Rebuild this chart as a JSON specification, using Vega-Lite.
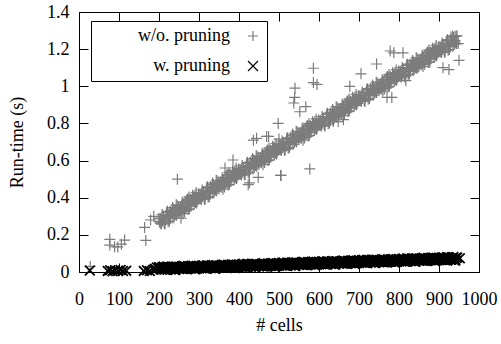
{
  "$schema": "https://vega.github.io/schema/vega-lite/v6.json",
  "width": 400,
  "height": 260,
  "autosize": {"type": "none"},
  "padding": {"left": 79, "top": 12, "right": 22, "bottom": 72},
  "background": "white",
  "config": {
    "view": {"stroke": "black", "strokeWidth": 1},
    "font": "Liberation Serif",
    "text": {"font": "Liberation Serif"},
    "axis": {
      "labelFont": "Liberation Serif", "labelFontSize": 18, "labelColor": "black",
      "titleFont": "Liberation Serif", "titleFontSize": 18, "titleFontWeight": "normal", "titleColor": "black",
      "grid": false, "domainColor": "black", "tickColor": "black", "tickSize": -9, "tickWidth": 1
    },
    "legend": {
      "orient": "none", "legendX": 12, "legendY": 9,
      "strokeColor": "black", "strokeWidth": 1, "fillColor": "white", "padding": 6, "cornerRadius": 0,
      "labelFont": "Liberation Serif", "labelFontSize": 18, "labelColor": "black",
      "labelAlign": "right", "symbolOffset": 147, "labelOffset": -32, "labelLimit": 200,
      "rowPadding": 12, "symbolSize": 100, "symbolStrokeWidth": 1.2
    }
  },
  "datasets": {
    "g": [
      {"c":28,"t":0.03},{"c":77,"t":0.176},{"c":77,"t":0.145},{"c":89,"t":0.136},{"c":97,"t":0.135},{"c":106,"t":0.15},{"c":114,"t":0.172},
      {"c":164,"t":0.24},{"c":167,"t":0.17},{"c":179,"t":0.28},{"c":187,"t":0.3},{"c":235,"t":0.33},{"c":246,"t":0.5},{"c":255,"t":0.29},
      {"c":385,"t":0.603},{"c":365,"t":0.56},{"c":423,"t":0.47},{"c":426,"t":0.48},{"c":448,"t":0.51},{"c":436,"t":0.71},{"c":444,"t":0.72},{"c":469,"t":0.73},{"c":474,"t":0.73},
      {"c":498,"t":0.8},{"c":500,"t":0.716},{"c":504,"t":0.52},{"c":505,"t":0.52},{"c":537,"t":0.91},{"c":539,"t":0.94},{"c":540,"t":0.99},{"c":552,"t":0.863},{"c":560,"t":0.775},{"c":567,"t":0.89},
      {"c":577,"t":0.555},{"c":586,"t":1.097},{"c":586,"t":1.02},{"c":595,"t":1.01},{"c":636,"t":0.81},{"c":648,"t":0.81},{"c":661,"t":0.82},{"c":677,"t":1.0},{"c":705,"t":1.067},
      {"c":744,"t":1.12},{"c":770,"t":0.94},{"c":782,"t":0.94},{"c":778,"t":1.19},{"c":787,"t":1.18},{"c":810,"t":1.18},{"c":817,"t":1.03},{"c":847,"t":1.1},{"c":877,"t":1.13},
      {"c":910,"t":1.1},{"c":925,"t":1.09},{"c":950,"t":1.14},{"c":948,"t":1.23},{"c":940,"t":1.27},{"c":930,"t":1.265},
      {"c":200,"t":0.29},{"c":205,"t":0.262},{"c":210,"t":0.288},{"c":215,"t":0.26},{"c":220,"t":0.321},{"c":225,"t":0.298},{"c":230,"t":0.325},{"c":235,"t":0.291},{"c":240,"t":0.323},{"c":245,"t":0.359},
      {"c":250,"t":0.316},{"c":255,"t":0.353},{"c":260,"t":0.314},{"c":265,"t":0.376},{"c":270,"t":0.352},{"c":275,"t":0.404},{"c":280,"t":0.356},{"c":285,"t":0.387},{"c":290,"t":0.414},{"c":295,"t":0.38},
      {"c":300,"t":0.422},{"c":305,"t":0.394},{"c":310,"t":0.42},{"c":315,"t":0.392},{"c":320,"t":0.453},{"c":325,"t":0.43},{"c":330,"t":0.457},{"c":335,"t":0.423},{"c":340,"t":0.455},{"c":345,"t":0.491},
      {"c":350,"t":0.448},{"c":355,"t":0.485},{"c":360,"t":0.446},{"c":365,"t":0.508},{"c":370,"t":0.484},{"c":375,"t":0.536},{"c":380,"t":0.488},{"c":385,"t":0.519},{"c":390,"t":0.546},{"c":395,"t":0.512},
      {"c":400,"t":0.554},{"c":405,"t":0.526},{"c":410,"t":0.552},{"c":415,"t":0.524},{"c":420,"t":0.585},{"c":425,"t":0.562},{"c":430,"t":0.589},{"c":435,"t":0.555},{"c":440,"t":0.587},{"c":445,"t":0.623},
      {"c":450,"t":0.58},{"c":455,"t":0.617},{"c":460,"t":0.578},{"c":465,"t":0.64},{"c":470,"t":0.616},{"c":475,"t":0.668},{"c":480,"t":0.62},{"c":485,"t":0.651},{"c":490,"t":0.678},{"c":495,"t":0.644},
      {"c":500,"t":0.686},{"c":505,"t":0.658},{"c":510,"t":0.684},{"c":515,"t":0.656},{"c":520,"t":0.717},{"c":525,"t":0.694},{"c":530,"t":0.721},{"c":535,"t":0.687},{"c":540,"t":0.719},{"c":545,"t":0.755},
      {"c":550,"t":0.712},{"c":555,"t":0.749},{"c":560,"t":0.71},{"c":565,"t":0.772},{"c":570,"t":0.748},{"c":575,"t":0.8},{"c":580,"t":0.752},{"c":585,"t":0.783},{"c":590,"t":0.81},{"c":595,"t":0.776},
      {"c":600,"t":0.818},{"c":605,"t":0.79},{"c":610,"t":0.816},{"c":615,"t":0.788},{"c":620,"t":0.849},{"c":625,"t":0.826},{"c":630,"t":0.853},{"c":635,"t":0.819},{"c":640,"t":0.851},{"c":645,"t":0.887},
      {"c":650,"t":0.844},{"c":655,"t":0.881},{"c":660,"t":0.842},{"c":665,"t":0.904},{"c":670,"t":0.88},{"c":675,"t":0.932},{"c":680,"t":0.884},{"c":685,"t":0.915},{"c":690,"t":0.942},{"c":695,"t":0.908},
      {"c":700,"t":0.95},{"c":705,"t":0.922},{"c":710,"t":0.948},{"c":715,"t":0.92},{"c":720,"t":0.981},{"c":725,"t":0.958},{"c":730,"t":0.985},{"c":735,"t":0.951},{"c":740,"t":0.983},{"c":745,"t":1.019},
      {"c":750,"t":0.976},{"c":755,"t":1.013},{"c":760,"t":0.974},{"c":765,"t":1.036},{"c":770,"t":1.012},{"c":775,"t":1.064},{"c":780,"t":1.016},{"c":785,"t":1.047},{"c":790,"t":1.074},{"c":795,"t":1.04},
      {"c":800,"t":1.082},{"c":805,"t":1.054},{"c":810,"t":1.08},{"c":815,"t":1.052},{"c":820,"t":1.113},{"c":825,"t":1.09},{"c":830,"t":1.117},{"c":835,"t":1.083},{"c":840,"t":1.115},{"c":845,"t":1.151},
      {"c":850,"t":1.108},{"c":855,"t":1.145},{"c":860,"t":1.106},{"c":865,"t":1.168},{"c":870,"t":1.144},{"c":875,"t":1.196},{"c":880,"t":1.148},{"c":885,"t":1.179},{"c":890,"t":1.206},{"c":895,"t":1.172},
      {"c":900,"t":1.214},{"c":905,"t":1.186},{"c":910,"t":1.212},{"c":915,"t":1.184},{"c":920,"t":1.245},{"c":925,"t":1.222},{"c":930,"t":1.249},{"c":935,"t":1.215},{"c":940,"t":1.247},{"c":945,"t":1.272},
      {"c":203,"t":0.264},{"c":208,"t":0.309},{"c":213,"t":0.265},{"c":218,"t":0.306},{"c":223,"t":0.27},{"c":228,"t":0.327},{"c":233,"t":0.316},{"c":238,"t":0.302},{"c":243,"t":0.362},{"c":248,"t":0.325},
      {"c":253,"t":0.33},{"c":258,"t":0.375},{"c":263,"t":0.331},{"c":268,"t":0.372},{"c":273,"t":0.336},{"c":278,"t":0.393},{"c":283,"t":0.382},{"c":288,"t":0.368},{"c":293,"t":0.428},{"c":298,"t":0.391},
      {"c":303,"t":0.396},{"c":308,"t":0.441},{"c":313,"t":0.397},{"c":318,"t":0.438},{"c":323,"t":0.402},{"c":328,"t":0.459},{"c":333,"t":0.448},{"c":338,"t":0.434},{"c":343,"t":0.494},{"c":348,"t":0.457},
      {"c":353,"t":0.462},{"c":358,"t":0.507},{"c":363,"t":0.463},{"c":368,"t":0.504},{"c":373,"t":0.468},{"c":378,"t":0.525},{"c":383,"t":0.514},{"c":388,"t":0.5},{"c":393,"t":0.56},{"c":398,"t":0.523},
      {"c":403,"t":0.528},{"c":408,"t":0.573},{"c":413,"t":0.529},{"c":418,"t":0.57},{"c":423,"t":0.534},{"c":428,"t":0.591},{"c":433,"t":0.58},{"c":438,"t":0.566},{"c":443,"t":0.626},{"c":448,"t":0.589},
      {"c":453,"t":0.594},{"c":458,"t":0.639},{"c":463,"t":0.595},{"c":468,"t":0.636},{"c":473,"t":0.6},{"c":478,"t":0.657},{"c":483,"t":0.646},{"c":488,"t":0.632},{"c":493,"t":0.692},{"c":498,"t":0.655},
      {"c":503,"t":0.66},{"c":508,"t":0.705},{"c":513,"t":0.661},{"c":518,"t":0.702},{"c":523,"t":0.666},{"c":528,"t":0.723},{"c":533,"t":0.712},{"c":538,"t":0.698},{"c":543,"t":0.758},{"c":548,"t":0.721},
      {"c":553,"t":0.726},{"c":558,"t":0.771},{"c":563,"t":0.727},{"c":568,"t":0.768},{"c":573,"t":0.732},{"c":578,"t":0.789},{"c":583,"t":0.778},{"c":588,"t":0.764},{"c":593,"t":0.824},{"c":598,"t":0.787},
      {"c":603,"t":0.792},{"c":608,"t":0.837},{"c":613,"t":0.793},{"c":618,"t":0.834},{"c":623,"t":0.798},{"c":628,"t":0.855},{"c":633,"t":0.844},{"c":638,"t":0.83},{"c":643,"t":0.89},{"c":648,"t":0.853},
      {"c":653,"t":0.858},{"c":658,"t":0.903},{"c":663,"t":0.859},{"c":668,"t":0.9},{"c":673,"t":0.864},{"c":678,"t":0.921},{"c":683,"t":0.91},{"c":688,"t":0.896},{"c":693,"t":0.956},{"c":698,"t":0.919},
      {"c":703,"t":0.924},{"c":708,"t":0.969},{"c":713,"t":0.925},{"c":718,"t":0.966},{"c":723,"t":0.93},{"c":728,"t":0.987},{"c":733,"t":0.976},{"c":738,"t":0.962},{"c":743,"t":1.022},{"c":748,"t":0.985},
      {"c":753,"t":0.99},{"c":758,"t":1.035},{"c":763,"t":0.991},{"c":768,"t":1.032},{"c":773,"t":0.996},{"c":778,"t":1.053},{"c":783,"t":1.042},{"c":788,"t":1.028},{"c":793,"t":1.088},{"c":798,"t":1.051},
      {"c":803,"t":1.056},{"c":808,"t":1.101},{"c":813,"t":1.057},{"c":818,"t":1.098},{"c":823,"t":1.062},{"c":828,"t":1.119},{"c":833,"t":1.108},{"c":838,"t":1.094},{"c":843,"t":1.154},{"c":848,"t":1.117},
      {"c":853,"t":1.122},{"c":858,"t":1.167},{"c":863,"t":1.123},{"c":868,"t":1.164},{"c":873,"t":1.128},{"c":878,"t":1.185},{"c":883,"t":1.174},{"c":888,"t":1.16},{"c":893,"t":1.22},{"c":898,"t":1.183},
      {"c":903,"t":1.188},{"c":908,"t":1.233},{"c":913,"t":1.189},{"c":918,"t":1.23},{"c":923,"t":1.194},{"c":928,"t":1.251},{"c":933,"t":1.24},{"c":938,"t":1.226},{"c":943,"t":1.27},
      {"c":201,"t":0.271},{"c":206,"t":0.258},{"c":211,"t":0.299},{"c":216,"t":0.281},{"c":221,"t":0.327},{"c":226,"t":0.274},{"c":231,"t":0.319},{"c":236,"t":0.339},{"c":241,"t":0.309},{"c":246,"t":0.335},
      {"c":251,"t":0.337},{"c":256,"t":0.324},{"c":261,"t":0.365},{"c":266,"t":0.347},{"c":271,"t":0.393},{"c":276,"t":0.34},{"c":281,"t":0.385},{"c":286,"t":0.405},{"c":291,"t":0.375},{"c":296,"t":0.401},
      {"c":301,"t":0.403},{"c":306,"t":0.39},{"c":311,"t":0.431},{"c":316,"t":0.413},{"c":321,"t":0.459},{"c":326,"t":0.406},{"c":331,"t":0.451},{"c":336,"t":0.471},{"c":341,"t":0.441},{"c":346,"t":0.467},
      {"c":351,"t":0.469},{"c":356,"t":0.456},{"c":361,"t":0.497},{"c":366,"t":0.479},{"c":371,"t":0.525},{"c":376,"t":0.472},{"c":381,"t":0.517},{"c":386,"t":0.537},{"c":391,"t":0.507},{"c":396,"t":0.533},
      {"c":401,"t":0.535},{"c":406,"t":0.522},{"c":411,"t":0.563},{"c":416,"t":0.545},{"c":421,"t":0.591},{"c":426,"t":0.538},{"c":431,"t":0.583},{"c":436,"t":0.603},{"c":441,"t":0.573},{"c":446,"t":0.599},
      {"c":451,"t":0.601},{"c":456,"t":0.588},{"c":461,"t":0.629},{"c":466,"t":0.611},{"c":471,"t":0.657},{"c":476,"t":0.604},{"c":481,"t":0.649},{"c":486,"t":0.669},{"c":491,"t":0.639},{"c":496,"t":0.665},
      {"c":501,"t":0.667},{"c":506,"t":0.654},{"c":511,"t":0.695},{"c":516,"t":0.677},{"c":521,"t":0.723},{"c":526,"t":0.67},{"c":531,"t":0.715},{"c":536,"t":0.735},{"c":541,"t":0.705},{"c":546,"t":0.731},
      {"c":551,"t":0.733},{"c":556,"t":0.72},{"c":561,"t":0.761},{"c":566,"t":0.743},{"c":571,"t":0.789},{"c":576,"t":0.736},{"c":581,"t":0.781},{"c":586,"t":0.801},{"c":591,"t":0.771},{"c":596,"t":0.797},
      {"c":601,"t":0.799},{"c":606,"t":0.786},{"c":611,"t":0.827},{"c":616,"t":0.809},{"c":621,"t":0.855},{"c":626,"t":0.802},{"c":631,"t":0.847},{"c":636,"t":0.867},{"c":641,"t":0.837},{"c":646,"t":0.863},
      {"c":651,"t":0.865},{"c":656,"t":0.852},{"c":661,"t":0.893},{"c":666,"t":0.875},{"c":671,"t":0.921},{"c":676,"t":0.868},{"c":681,"t":0.913},{"c":686,"t":0.933},{"c":691,"t":0.903},{"c":696,"t":0.929},
      {"c":701,"t":0.931},{"c":706,"t":0.918},{"c":711,"t":0.959},{"c":716,"t":0.941},{"c":721,"t":0.987},{"c":726,"t":0.934},{"c":731,"t":0.979},{"c":736,"t":0.999},{"c":741,"t":0.969},{"c":746,"t":0.995},
      {"c":751,"t":0.997},{"c":756,"t":0.984},{"c":761,"t":1.025},{"c":766,"t":1.007},{"c":771,"t":1.053},{"c":776,"t":1.0},{"c":781,"t":1.045},{"c":786,"t":1.065},{"c":791,"t":1.035},{"c":796,"t":1.061},
      {"c":801,"t":1.063},{"c":806,"t":1.05},{"c":811,"t":1.091},{"c":816,"t":1.073},{"c":821,"t":1.119},{"c":826,"t":1.066},{"c":831,"t":1.111},{"c":836,"t":1.131},{"c":841,"t":1.101},{"c":846,"t":1.127},
      {"c":851,"t":1.129},{"c":856,"t":1.116},{"c":861,"t":1.157},{"c":866,"t":1.139},{"c":871,"t":1.185},{"c":876,"t":1.132},{"c":881,"t":1.177},{"c":886,"t":1.197},{"c":891,"t":1.167},{"c":896,"t":1.193},
      {"c":901,"t":1.195},{"c":906,"t":1.182},{"c":911,"t":1.223},{"c":916,"t":1.205},{"c":921,"t":1.251},{"c":926,"t":1.198},{"c":931,"t":1.243},{"c":936,"t":1.263},{"c":941,"t":1.233},
      {"c":204,"t":0.287},{"c":209,"t":0.274},{"c":214,"t":0.26},{"c":219,"t":0.32},{"c":224,"t":0.305},{"c":229,"t":0.29},{"c":234,"t":0.347},{"c":239,"t":0.317},{"c":244,"t":0.306},{"c":249,"t":0.352},
      {"c":254,"t":0.353},{"c":259,"t":0.34},{"c":264,"t":0.326},{"c":269,"t":0.386},{"c":274,"t":0.371},{"c":279,"t":0.356},{"c":284,"t":0.413},{"c":289,"t":0.383},{"c":294,"t":0.372},{"c":299,"t":0.418},
      {"c":304,"t":0.419},{"c":309,"t":0.406},{"c":314,"t":0.392},{"c":319,"t":0.452},{"c":324,"t":0.437},{"c":329,"t":0.422},{"c":334,"t":0.479},{"c":339,"t":0.449},{"c":344,"t":0.438},{"c":349,"t":0.484},
      {"c":354,"t":0.485},{"c":359,"t":0.472},{"c":364,"t":0.458},{"c":369,"t":0.518},{"c":374,"t":0.503},{"c":379,"t":0.488},{"c":384,"t":0.545},{"c":389,"t":0.515},{"c":394,"t":0.504},{"c":399,"t":0.55},
      {"c":404,"t":0.551},{"c":409,"t":0.538},{"c":414,"t":0.524},{"c":419,"t":0.584},{"c":424,"t":0.569},{"c":429,"t":0.554},{"c":434,"t":0.611},{"c":439,"t":0.581},{"c":444,"t":0.57},{"c":449,"t":0.616},
      {"c":454,"t":0.617},{"c":459,"t":0.604},{"c":464,"t":0.59},{"c":469,"t":0.65},{"c":474,"t":0.635},{"c":479,"t":0.62},{"c":484,"t":0.677},{"c":489,"t":0.647},{"c":494,"t":0.636},{"c":499,"t":0.682},
      {"c":504,"t":0.683},{"c":509,"t":0.67},{"c":514,"t":0.656},{"c":519,"t":0.716},{"c":524,"t":0.701},{"c":529,"t":0.686},{"c":534,"t":0.743},{"c":539,"t":0.713},{"c":544,"t":0.702},{"c":549,"t":0.748},
      {"c":554,"t":0.749},{"c":559,"t":0.736},{"c":564,"t":0.722},{"c":569,"t":0.782},{"c":574,"t":0.767},{"c":579,"t":0.752},{"c":584,"t":0.809},{"c":589,"t":0.779},{"c":594,"t":0.768},{"c":599,"t":0.814},
      {"c":604,"t":0.815},{"c":609,"t":0.802},{"c":614,"t":0.788},{"c":619,"t":0.848},{"c":624,"t":0.833},{"c":629,"t":0.818},{"c":634,"t":0.875},{"c":639,"t":0.845},{"c":644,"t":0.834},{"c":649,"t":0.88},
      {"c":654,"t":0.881},{"c":659,"t":0.868},{"c":664,"t":0.854},{"c":669,"t":0.914},{"c":674,"t":0.899},{"c":679,"t":0.884},{"c":684,"t":0.941},{"c":689,"t":0.911},{"c":694,"t":0.9},{"c":699,"t":0.946},
      {"c":704,"t":0.947},{"c":709,"t":0.934},{"c":714,"t":0.92},{"c":719,"t":0.98},{"c":724,"t":0.965},{"c":729,"t":0.95},{"c":734,"t":1.007},{"c":739,"t":0.977},{"c":744,"t":0.966},{"c":749,"t":1.012},
      {"c":754,"t":1.013},{"c":759,"t":1.0},{"c":764,"t":0.986},{"c":769,"t":1.046},{"c":774,"t":1.031},{"c":779,"t":1.016},{"c":784,"t":1.073},{"c":789,"t":1.043},{"c":794,"t":1.032},{"c":799,"t":1.078},
      {"c":804,"t":1.079},{"c":809,"t":1.066},{"c":814,"t":1.052},{"c":819,"t":1.112},{"c":824,"t":1.097},{"c":829,"t":1.082},{"c":834,"t":1.139},{"c":839,"t":1.109},{"c":844,"t":1.098},{"c":849,"t":1.144},
      {"c":854,"t":1.145},{"c":859,"t":1.132},{"c":864,"t":1.118},{"c":869,"t":1.178},{"c":874,"t":1.163},{"c":879,"t":1.148},{"c":884,"t":1.205},{"c":889,"t":1.175},{"c":894,"t":1.164},{"c":899,"t":1.21},
      {"c":904,"t":1.211},{"c":909,"t":1.198},{"c":914,"t":1.184},{"c":919,"t":1.244},{"c":924,"t":1.229},{"c":929,"t":1.214},{"c":934,"t":1.271},{"c":939,"t":1.241},{"c":944,"t":1.23}
    ],
    "b": [
      {"c":27,"t":0.008},{"c":72,"t":0.006},{"c":78,"t":0.01},{"c":84,"t":0.004},{"c":90,"t":0.009},{"c":98,"t":0.006},{"c":104,"t":0.011},{"c":110,"t":0.005},{"c":118,"t":0.007},
      {"c":162,"t":0.006},{"c":170,"t":0.009},{"c":177,"t":0.005},{"c":186,"t":0.012},{"c":190,"t":0.017},{"c":195,"t":0.024},
      {"c":200,"t":0.026},{"c":205,"t":0.016},{"c":210,"t":0.022},{"c":215,"t":0.013},{"c":220,"t":0.028},{"c":225,"t":0.02},{"c":230,"t":0.015},{"c":235,"t":0.024},{"c":240,"t":0.018},{"c":245,"t":0.027},
      {"c":250,"t":0.018},{"c":255,"t":0.027},{"c":260,"t":0.016},{"c":265,"t":0.029},{"c":270,"t":0.025},{"c":275,"t":0.021},{"c":280,"t":0.031},{"c":285,"t":0.023},{"c":290,"t":0.028},{"c":295,"t":0.019},
      {"c":300,"t":0.033},{"c":305,"t":0.023},{"c":310,"t":0.029},{"c":315,"t":0.02},{"c":320,"t":0.035},{"c":325,"t":0.027},{"c":330,"t":0.022},{"c":335,"t":0.031},{"c":340,"t":0.025},{"c":345,"t":0.034},
      {"c":350,"t":0.025},{"c":355,"t":0.034},{"c":360,"t":0.023},{"c":365,"t":0.036},{"c":370,"t":0.032},{"c":375,"t":0.028},{"c":380,"t":0.038},{"c":385,"t":0.03},{"c":390,"t":0.035},{"c":395,"t":0.026},
      {"c":400,"t":0.041},{"c":405,"t":0.031},{"c":410,"t":0.037},{"c":415,"t":0.028},{"c":420,"t":0.043},{"c":425,"t":0.035},{"c":430,"t":0.03},{"c":435,"t":0.039},{"c":440,"t":0.033},{"c":445,"t":0.042},
      {"c":450,"t":0.032},{"c":455,"t":0.041},{"c":460,"t":0.03},{"c":465,"t":0.043},{"c":470,"t":0.039},{"c":475,"t":0.035},{"c":480,"t":0.045},{"c":485,"t":0.037},{"c":490,"t":0.042},{"c":495,"t":0.033},
      {"c":500,"t":0.048},{"c":505,"t":0.038},{"c":510,"t":0.044},{"c":515,"t":0.035},{"c":520,"t":0.05},{"c":525,"t":0.042},{"c":530,"t":0.037},{"c":535,"t":0.046},{"c":540,"t":0.04},{"c":545,"t":0.049},
      {"c":550,"t":0.04},{"c":555,"t":0.049},{"c":560,"t":0.038},{"c":565,"t":0.051},{"c":570,"t":0.047},{"c":575,"t":0.043},{"c":580,"t":0.053},{"c":585,"t":0.045},{"c":590,"t":0.05},{"c":595,"t":0.041},
      {"c":600,"t":0.055},{"c":605,"t":0.045},{"c":610,"t":0.051},{"c":615,"t":0.042},{"c":620,"t":0.057},{"c":625,"t":0.049},{"c":630,"t":0.044},{"c":635,"t":0.053},{"c":640,"t":0.047},{"c":645,"t":0.056},
      {"c":650,"t":0.047},{"c":655,"t":0.056},{"c":660,"t":0.045},{"c":665,"t":0.058},{"c":670,"t":0.054},{"c":675,"t":0.05},{"c":680,"t":0.06},{"c":685,"t":0.052},{"c":690,"t":0.057},{"c":695,"t":0.048},
      {"c":700,"t":0.063},{"c":705,"t":0.053},{"c":710,"t":0.059},{"c":715,"t":0.05},{"c":720,"t":0.065},{"c":725,"t":0.057},{"c":730,"t":0.052},{"c":735,"t":0.061},{"c":740,"t":0.055},{"c":745,"t":0.064},
      {"c":750,"t":0.054},{"c":755,"t":0.063},{"c":760,"t":0.052},{"c":765,"t":0.065},{"c":770,"t":0.061},{"c":775,"t":0.057},{"c":780,"t":0.067},{"c":785,"t":0.059},{"c":790,"t":0.064},{"c":795,"t":0.055},
      {"c":800,"t":0.07},{"c":805,"t":0.06},{"c":810,"t":0.066},{"c":815,"t":0.057},{"c":820,"t":0.072},{"c":825,"t":0.064},{"c":830,"t":0.059},{"c":835,"t":0.068},{"c":840,"t":0.062},{"c":845,"t":0.071},
      {"c":850,"t":0.062},{"c":855,"t":0.071},{"c":860,"t":0.06},{"c":865,"t":0.073},{"c":870,"t":0.069},{"c":875,"t":0.065},{"c":880,"t":0.075},{"c":885,"t":0.067},{"c":890,"t":0.072},{"c":895,"t":0.063},
      {"c":900,"t":0.077},{"c":905,"t":0.067},{"c":910,"t":0.073},{"c":915,"t":0.064},{"c":920,"t":0.079},{"c":925,"t":0.071},{"c":930,"t":0.066},{"c":935,"t":0.075},{"c":940,"t":0.069},{"c":945,"t":0.078},{"c":952,"t":0.074},
      {"c":203,"t":0.017},{"c":208,"t":0.025},{"c":213,"t":0.013},{"c":218,"t":0.022},{"c":223,"t":0.028},{"c":228,"t":0.015},{"c":233,"t":0.021},{"c":238,"t":0.012},{"c":243,"t":0.026},{"c":248,"t":0.019},
      {"c":253,"t":0.021},{"c":258,"t":0.029},{"c":263,"t":0.017},{"c":268,"t":0.026},{"c":273,"t":0.032},{"c":278,"t":0.019},{"c":283,"t":0.025},{"c":288,"t":0.016},{"c":293,"t":0.03},{"c":298,"t":0.023},
      {"c":303,"t":0.024},{"c":308,"t":0.032},{"c":313,"t":0.02},{"c":318,"t":0.029},{"c":323,"t":0.035},{"c":328,"t":0.022},{"c":333,"t":0.028},{"c":338,"t":0.019},{"c":343,"t":0.033},{"c":348,"t":0.026},
      {"c":353,"t":0.028},{"c":358,"t":0.036},{"c":363,"t":0.024},{"c":368,"t":0.033},{"c":373,"t":0.039},{"c":378,"t":0.026},{"c":383,"t":0.032},{"c":388,"t":0.023},{"c":393,"t":0.037},{"c":398,"t":0.03},
      {"c":403,"t":0.032},{"c":408,"t":0.04},{"c":413,"t":0.028},{"c":418,"t":0.037},{"c":423,"t":0.043},{"c":428,"t":0.03},{"c":433,"t":0.036},{"c":438,"t":0.027},{"c":443,"t":0.041},{"c":448,"t":0.034},
      {"c":453,"t":0.035},{"c":458,"t":0.043},{"c":463,"t":0.031},{"c":468,"t":0.04},{"c":473,"t":0.046},{"c":478,"t":0.033},{"c":483,"t":0.039},{"c":488,"t":0.03},{"c":493,"t":0.044},{"c":498,"t":0.037},
      {"c":503,"t":0.039},{"c":508,"t":0.047},{"c":513,"t":0.035},{"c":518,"t":0.044},{"c":523,"t":0.05},{"c":528,"t":0.037},{"c":533,"t":0.043},{"c":538,"t":0.034},{"c":543,"t":0.048},{"c":548,"t":0.041},
      {"c":553,"t":0.043},{"c":558,"t":0.051},{"c":563,"t":0.039},{"c":568,"t":0.048},{"c":573,"t":0.054},{"c":578,"t":0.041},{"c":583,"t":0.047},{"c":588,"t":0.038},{"c":593,"t":0.052},{"c":598,"t":0.045},
      {"c":603,"t":0.046},{"c":608,"t":0.054},{"c":613,"t":0.042},{"c":618,"t":0.051},{"c":623,"t":0.057},{"c":628,"t":0.044},{"c":633,"t":0.05},{"c":638,"t":0.041},{"c":643,"t":0.055},{"c":648,"t":0.048},
      {"c":653,"t":0.05},{"c":658,"t":0.058},{"c":663,"t":0.046},{"c":668,"t":0.055},{"c":673,"t":0.061},{"c":678,"t":0.048},{"c":683,"t":0.054},{"c":688,"t":0.045},{"c":693,"t":0.059},{"c":698,"t":0.052},
      {"c":703,"t":0.054},{"c":708,"t":0.062},{"c":713,"t":0.05},{"c":718,"t":0.059},{"c":723,"t":0.065},{"c":728,"t":0.052},{"c":733,"t":0.058},{"c":738,"t":0.049},{"c":743,"t":0.063},{"c":748,"t":0.056},
      {"c":753,"t":0.057},{"c":758,"t":0.065},{"c":763,"t":0.053},{"c":768,"t":0.062},{"c":773,"t":0.068},{"c":778,"t":0.055},{"c":783,"t":0.061},{"c":788,"t":0.052},{"c":793,"t":0.066},{"c":798,"t":0.059},
      {"c":803,"t":0.061},{"c":808,"t":0.069},{"c":813,"t":0.057},{"c":818,"t":0.066},{"c":823,"t":0.072},{"c":828,"t":0.059},{"c":833,"t":0.065},{"c":838,"t":0.056},{"c":843,"t":0.07},{"c":848,"t":0.063},
      {"c":853,"t":0.065},{"c":858,"t":0.073},{"c":863,"t":0.061},{"c":868,"t":0.07},{"c":873,"t":0.076},{"c":878,"t":0.063},{"c":883,"t":0.069},{"c":888,"t":0.06},{"c":893,"t":0.074},{"c":898,"t":0.067},
      {"c":903,"t":0.068},{"c":908,"t":0.076},{"c":913,"t":0.064},{"c":918,"t":0.073},{"c":923,"t":0.079},{"c":928,"t":0.066},{"c":933,"t":0.072},{"c":938,"t":0.063},{"c":943,"t":0.077},
      {"c":201,"t":0.024},{"c":206,"t":0.014},{"c":211,"t":0.029},{"c":216,"t":0.018},{"c":221,"t":0.012},{"c":226,"t":0.026},{"c":231,"t":0.016},{"c":236,"t":0.03},{"c":241,"t":0.011},{"c":246,"t":0.021},
      {"c":251,"t":0.028},{"c":256,"t":0.018},{"c":261,"t":0.033},{"c":266,"t":0.022},{"c":271,"t":0.016},{"c":276,"t":0.03},{"c":281,"t":0.02},{"c":286,"t":0.034},{"c":291,"t":0.015},{"c":296,"t":0.025},
      {"c":301,"t":0.031},{"c":306,"t":0.021},{"c":311,"t":0.036},{"c":316,"t":0.025},{"c":321,"t":0.019},{"c":326,"t":0.033},{"c":331,"t":0.023},{"c":336,"t":0.037},{"c":341,"t":0.018},{"c":346,"t":0.028},
      {"c":351,"t":0.035},{"c":356,"t":0.025},{"c":361,"t":0.04},{"c":366,"t":0.029},{"c":371,"t":0.023},{"c":376,"t":0.037},{"c":381,"t":0.027},{"c":386,"t":0.041},{"c":391,"t":0.022},{"c":396,"t":0.032},
      {"c":401,"t":0.039},{"c":406,"t":0.029},{"c":411,"t":0.044},{"c":416,"t":0.033},{"c":421,"t":0.027},{"c":426,"t":0.041},{"c":431,"t":0.031},{"c":436,"t":0.045},{"c":441,"t":0.026},{"c":446,"t":0.036},
      {"c":451,"t":0.042},{"c":456,"t":0.032},{"c":461,"t":0.047},{"c":466,"t":0.036},{"c":471,"t":0.03},{"c":476,"t":0.044},{"c":481,"t":0.034},{"c":486,"t":0.048},{"c":491,"t":0.029},{"c":496,"t":0.039},
      {"c":501,"t":0.046},{"c":506,"t":0.036},{"c":511,"t":0.051},{"c":516,"t":0.04},{"c":521,"t":0.034},{"c":526,"t":0.048},{"c":531,"t":0.038},{"c":536,"t":0.052},{"c":541,"t":0.033},{"c":546,"t":0.043},
      {"c":551,"t":0.05},{"c":556,"t":0.04},{"c":561,"t":0.055},{"c":566,"t":0.044},{"c":571,"t":0.038},{"c":576,"t":0.052},{"c":581,"t":0.042},{"c":586,"t":0.056},{"c":591,"t":0.037},{"c":596,"t":0.047},
      {"c":601,"t":0.053},{"c":606,"t":0.043},{"c":611,"t":0.058},{"c":616,"t":0.047},{"c":621,"t":0.041},{"c":626,"t":0.055},{"c":631,"t":0.045},{"c":636,"t":0.059},{"c":641,"t":0.04},{"c":646,"t":0.05},
      {"c":651,"t":0.057},{"c":656,"t":0.047},{"c":661,"t":0.062},{"c":666,"t":0.051},{"c":671,"t":0.045},{"c":676,"t":0.059},{"c":681,"t":0.049},{"c":686,"t":0.063},{"c":691,"t":0.044},{"c":696,"t":0.054},
      {"c":701,"t":0.061},{"c":706,"t":0.051},{"c":711,"t":0.066},{"c":716,"t":0.055},{"c":721,"t":0.049},{"c":726,"t":0.063},{"c":731,"t":0.053},{"c":736,"t":0.067},{"c":741,"t":0.048},{"c":746,"t":0.058},
      {"c":751,"t":0.064},{"c":756,"t":0.054},{"c":761,"t":0.069},{"c":766,"t":0.058},{"c":771,"t":0.052},{"c":776,"t":0.066},{"c":781,"t":0.056},{"c":786,"t":0.07},{"c":791,"t":0.051},{"c":796,"t":0.061},
      {"c":801,"t":0.068},{"c":806,"t":0.058},{"c":811,"t":0.073},{"c":816,"t":0.062},{"c":821,"t":0.056},{"c":826,"t":0.07},{"c":831,"t":0.06},{"c":836,"t":0.074},{"c":841,"t":0.055},{"c":846,"t":0.065},
      {"c":851,"t":0.072},{"c":856,"t":0.062},{"c":861,"t":0.077},{"c":866,"t":0.066},{"c":871,"t":0.06},{"c":876,"t":0.074},{"c":881,"t":0.064},{"c":886,"t":0.078},{"c":891,"t":0.059},{"c":896,"t":0.069},
      {"c":901,"t":0.075},{"c":906,"t":0.065},{"c":911,"t":0.08},{"c":916,"t":0.069},{"c":921,"t":0.063},{"c":926,"t":0.077},{"c":931,"t":0.067},{"c":936,"t":0.081},{"c":941,"t":0.062}
    ]
  },
  "layer": [
    {
      "data": {"name": "g"},
      "mark": {"type": "point", "filled": false, "size": 121, "strokeWidth": 1.2, "opacity": 1},
      "encoding": {
        "x": {"field": "c", "type": "quantitative", "scale": {"domain": [0, 1000], "nice": false},
              "axis": {"orient": "bottom", "title": "# cells", "values": [0,100,200,300,400,500,600,700,800,900,1000], "format": "d",
                       "labelFont": "Liberation Serif", "titleFont": "Liberation Serif", "labelPadding": 27, "titlePadding": 8, "labelFlush": false}},
        "y": {"field": "t", "type": "quantitative", "scale": {"domain": [0, 1.4], "nice": false, "zero": false},
              "axis": {"orient": "left", "title": "Run-time (s)", "values": [0,0.2,0.4,0.6,0.8,1,1.2,1.4], "format": "~g",
                       "labelFont": "Liberation Serif", "titleFont": "Liberation Serif", "labelPadding": 19, "titlePadding": 20, "labelFlush": false}},
        "color": {"datum": "w/o. pruning", "type": "nominal",
                  "scale": {"domain": ["w/o. pruning", "w. pruning"], "range": ["#7c7c7c", "#000000"]},
                  "legend": {"title": null, "labelFont": "Liberation Serif"}},
        "shape": {"datum": "w/o. pruning", "type": "nominal",
                  "scale": {"domain": ["w/o. pruning", "w. pruning"], "range": ["M-1,0H1M0,-1V1", "M-1,-1L1,1M-1,1L1,-1"]},
                  "legend": {"title": null, "labelFont": "Liberation Serif"}}
      }
    },
    {
      "data": {"name": "b"},
      "mark": {"type": "point", "filled": false, "size": 95, "strokeWidth": 1.8, "opacity": 1},
      "encoding": {
        "x": {"field": "c", "type": "quantitative",
              "axis": {"orient": "top", "title": null, "labels": false, "domain": false, "values": [0,100,200,300,400,500,600,700,800,900,1000]}},
        "y": {"field": "t", "type": "quantitative",
              "axis": {"orient": "right", "title": null, "labels": false, "domain": false, "values": [0,0.2,0.4,0.6,0.8,1,1.2,1.4]}},
        "color": {"datum": "w. pruning", "type": "nominal"},
        "shape": {"datum": "w. pruning", "type": "nominal"}
      }
    }
  ],
  "resolve": {"axis": {"x": "independent", "y": "independent"}}
}
